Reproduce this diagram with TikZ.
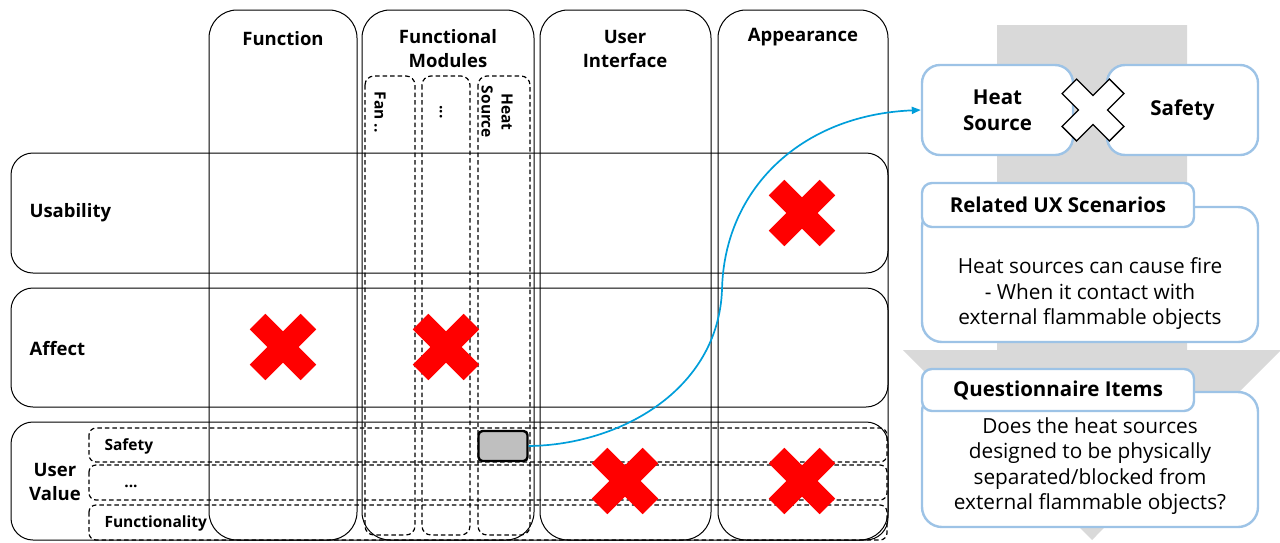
\documentclass[tikz,border=0pt]{standalone}
\usepackage{fontspec}
\setmainfont{Open Sans}
\usetikzlibrary{arrows.meta}
\definecolor{crossred}{RGB}{255,0,0}
\definecolor{flowblue}{RGB}{157,195,230}
\definecolor{linkblue}{RGB}{0,158,218}
\definecolor{arrowgray}{RGB}{217,217,217}
\definecolor{cellgray}{RGB}{191,191,191}
\newcommand{\headfont}{\fontsize{18.5}{24}\selectfont\bfseries}
\newcommand{\panelfont}{\fontsize{20.5}{26}\selectfont\bfseries}
\newcommand{\subfont}{\fontsize{15.5}{20}\selectfont\bfseries}
\newcommand{\bodyfont}{\fontsize{20.8}{25.5}\selectfont}
\tikzset{
  crossmark/.pic={
    \path[pic actions] (11,36) -- (11,11) -- (36,11) -- (36,-11) -- (11,-11)
      -- (11,-36) -- (-11,-36) -- (-11,-11) -- (-36,-11) -- (-36,11)
      -- (-11,11) -- (-11,36) -- cycle;
  }
}

\begin{document}
\begin{tikzpicture}[x=1pt, y=-1pt,
    colbox/.style={draw=black, line width=1pt, rounded corners=28pt},
    rowbox/.style={draw=black, line width=1pt, rounded corners=22pt},
    subcol/.style={draw=black, line width=1.2pt, dash pattern=on 4.5pt off 3pt, rounded corners=9pt},
    subrow/.style={draw=black, line width=1.2pt, dash pattern=on 4.5pt off 3pt, rounded corners=7pt},
    flowbox/.style={draw=flowblue, line width=2.4pt, fill=white, inner sep=0pt},
    linkline/.style={draw=linkblue, line width=1.7pt, -{Triangle[length=9pt, width=7pt]}}]
  \useasboundingbox (0,0) rectangle (1280,542);

  % --- the big grey arrow behind the right panel ---
  \fill[arrowgray] (997,25) -- (1187,25) -- (1187,350) -- (1281,350)
    -- (1092,540) -- (903,350) -- (997,350) -- cycle;

  % --- three value rows ---
  \foreach \ya/\yb in {153/273, 288/407, 422/540}
    \draw[rowbox] (11,\ya) rectangle (888,\yb);
  \node[anchor=west, font=\headfont] (usab) at (26,213) {Usability};
  \node[anchor=west, font=\headfont] (affe) at (26,349) {Affect};
  \node[align=center, font=\headfont] (uval) at (55,482) {User\\Value};

  % --- four design columns, crossing the rows ---
  \foreach \xa/\xb in {209/357, 362/534, 540/711, 718/888}
    \draw[colbox] (\xa,10) rectangle (\xb,540);
  \node[font=\headfont] (func) at (283,39) {Function};
  \node[align=center, font=\headfont] (modu) at (448,49) {Functional\\Modules};
  \node[align=center, font=\headfont] (uint) at (625,49) {User\\Interface};
  \node[font=\headfont] (appe) at (803,37) {Appearance};

  % --- dashed module columns ---
  \foreach \xa/\xb in {365/415, 422/470, 478/530}
    \draw[subcol] (\xa,76) rectangle (\xb,535);
  \node[rotate=-90, font=\subfont] (fan) at (380,112) {Fan ..};
  \node[rotate=-90, font=\subfont] (more) at (441,112) {...};
  \node[rotate=-90, align=center, font=\subfont] (heatcol) at (497,112) {Heat\\Source};

  % --- dashed user value rows ---
  \foreach \ya/\yb in {428/462, 465/500, 505/540}
    \draw[subrow] (89,\ya) rectangle (887,\yb);
  \node[anchor=west, font=\subfont] (safe) at (101,446) {Safety};
  \node[font=\subfont] (dots) at (131,486) {...};
  \node[anchor=west, font=\subfont] (fnty) at (101,523) {Functionality};

  % --- selected cell: heat source x safety ---
  \node[draw=black, line width=2.4pt, fill=cellgray, rounded corners=4pt,
        minimum width=49pt, minimum height=30pt, inner sep=0pt] (hs) at (503,446) {};

  % --- red crosses ---
  \foreach \cx/\cy in {802/213, 283/347, 446/347, 625/481, 802/481}
    \pic[fill=crossred, rotate=45] at (\cx,\cy) {crossmark};

  % --- right panel: pair of items ---
  \node[flowbox, rounded corners=18pt, minimum width=151pt, minimum height=90pt,
        align=center, font=\panelfont] (heat) at (997.5,110) {Heat\\Source};
  \node[flowbox, rounded corners=18pt, minimum width=151pt, minimum height=90pt,
        font=\panelfont] (safety) at (1182.5,110) {Safety};
  \pic[fill=white, draw=black, line width=1.3pt, rotate=45, scale=0.93] at (1093,110) {crossmark};

  % --- related scenarios ---
  \node[flowbox, rounded corners=20pt, minimum width=336pt, minimum height=135pt] (scen) at (1090,274.5) {};
  \node[align=center, font=\bodyfont] (scentext) at (1090,294)
    {Heat sources can cause fire\\- When it contact with\\external flammable objects};
  \node[flowbox, rounded corners=10pt, minimum width=272pt, minimum height=44pt,
        font=\panelfont] (scenhead) at (1058,205) {Related UX Scenarios};

  % --- questionnaire items ---
  \node[flowbox, rounded corners=20pt, minimum width=336pt, minimum height=135pt] (ques) at (1090,459.5) {};
  \node[align=center, font=\bodyfont] (questext) at (1090,466)
    {Does the heat sources\\designed to be physically\\separated/blocked from\\external flammable objects?};
  \node[flowbox, rounded corners=10pt, minimum width=272pt, minimum height=42pt,
        font=\panelfont] (queshead) at (1058,390) {Questionnaire Items};

  % --- link from the cell to the pair ---
  \coordinate (bend) at (722,290);
  \draw[linkline] (hs.east) .. controls (620,445) and (718,390) .. (bend)
    .. controls (724,190) and (800,115) .. (heat.west);
\end{tikzpicture}
\end{document}
